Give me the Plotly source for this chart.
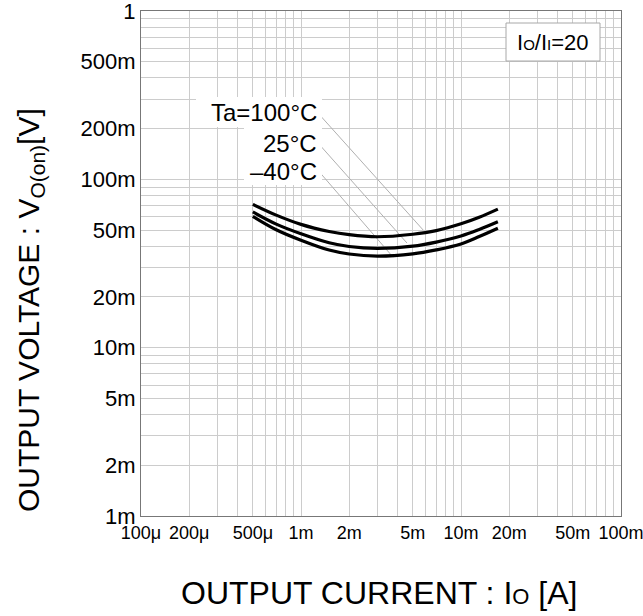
import plotly.graph_objects as go
import numpy as np

# Data
current_A = [0.5e-3, 0.7e-3, 1e-3, 1.5e-3, 2e-3, 3e-3, 5e-3, 7e-3, 10e-3, 13e-3, 17e-3]
v_100C = [71e-3, 61.3e-3, 54e-3, 49e-3, 46.9e-3, 45.6e-3, 47.2e-3, 49.6e-3, 54.4e-3, 59.5e-3, 66.5e-3]
v_25C = [64e-3, 54.2e-3, 47.5e-3, 42e-3, 39.9e-3, 38.9e-3, 40.1e-3, 42.4e-3, 46.1e-3, 50.4e-3, 56e-3]
v_m40C = [60.3e-3, 50.2e-3, 43.5e-3, 38e-3, 36e-3, 35e-3, 36.1e-3, 38.1e-3, 41.3e-3, 45.7e-3, 51.2e-3]

series_names = ["Ta=100°C", "25°C", "–40°C"]
series_values = [v_100C, v_25C, v_m40C]

x_tick_vals = [1e-4, 2e-4, 5e-4, 1e-3, 2e-3, 5e-3, 1e-2, 2e-2, 5e-2, 1e-1]
x_tick_text = ["100μ", "200μ", "500μ", "1m", "2m", "5m", "10m", "20m", "50m", "100m"]
y_tick_vals = [1e-3, 2e-3, 5e-3, 1e-2, 2e-2, 5e-2, 1e-1, 2e-1, 5e-1, 1]
y_tick_text = ["1m", "2m", "5m", "10m", "20m", "50m", "100m", "200m", "500m", "1"]

# Leader line endpoints (label anchor -> curve)
leader_start_x = [1.31e-3, 1.31e-3, 1.31e-3]
leader_start_y = [0.241, 0.160, 0.110]
leader_end_x = [5.8e-3, 4.6e-3, 3.76e-3]
leader_end_y = [50e-3, 41.8e-3, 34.5e-3]

font = "Liberation Sans, Arial, sans-serif"

def all_grid(lo_exp, hi_exp):
    vals = []
    for e in range(lo_exp, hi_exp):
        for m in range(1, 10):
            vals.append(m * 10.0 ** e)
    vals.append(10.0 ** hi_exp)
    return vals

def labels_for(vals, tv, tt):
    out = []
    for v in vals:
        lab = ""
        for a, b in zip(tv, tt):
            if abs(np.log10(v) - np.log10(a)) < 1e-6:
                lab = b
        out.append(lab)
    return out

xg = all_grid(-4, -1)
yg = all_grid(-3, 0)

fig = go.Figure()

for sx, sy, ex, ey in zip(leader_start_x, leader_start_y, leader_end_x, leader_end_y):
    fig.add_trace(go.Scatter(x=[sx, ex], y=[sy, ey], mode="lines",
                             line=dict(color="#b0b0b0", width=1), showlegend=False,
                             hoverinfo="skip"))

for name, vals in zip(series_names, series_values):
    fig.add_trace(go.Scatter(x=current_A, y=vals, mode="lines", name=name,
                             line=dict(color="black", width=3.2, shape="spline", smoothing=1.0),
                             showlegend=False))

# plot area in screen pixels (reference)
PL, PR, PT, PB = 141, 621, 11, 516
W, H = PR - PL, PB - PT

def px(xp):
    return (xp - PL) / W

def py(yp):
    return (PB - yp) / H

# Label block (white background)
fig.add_shape(type="rect", xref="paper", yref="paper",
              x0=px(196), x1=px(322), y0=py(127), y1=py(97),
              fillcolor="white", line=dict(width=0), layer="above")
fig.add_shape(type="rect", xref="paper", yref="paper",
              x0=px(244), x1=px(322), y0=py(185), y1=py(127),
              fillcolor="white", line=dict(width=0), layer="above")
label_y_px = [113, 143, 172]
for name, ypx in zip(series_names, label_y_px):
    fig.add_annotation(xref="paper", yref="paper", x=px(319),
                       y=py(ypx), text=name, showarrow=False,
                       xanchor="right", yanchor="middle",
                       font=dict(family=font, size=24, color="black"))

# Io/Ii box
fig.add_shape(type="rect", xref="paper", yref="paper",
              x0=px(506), x1=px(600), y0=py(61), y1=py(23),
              fillcolor="white", line=dict(color="#a8a8a8", width=1), layer="above")
fig.add_annotation(xref="paper", yref="paper", x=px(553), y=py(42),
                   xanchor="center", yanchor="middle",
                   text="I<span style='font-size:15px'>O</span>/I<span style='font-size:15px'>I</span>=20",
                   showarrow=False, font=dict(family=font, size=22, color="black"))

fig.update_xaxes(type="log", range=[-4, -1], tickvals=xg,
                 ticktext=labels_for(xg, x_tick_vals, x_tick_text),
                 showgrid=True, gridcolor="#cccccc", gridwidth=1,
                 showline=True, linecolor="#777777", linewidth=1, mirror=True,
                 ticks="", zeroline=False, ticklabeloverflow="allow", automargin=False,
                 tickfont=dict(family=font, size=18, color="black"))
fig.update_yaxes(type="log", range=[-3, 0], tickvals=yg,
                 ticktext=labels_for(yg, y_tick_vals, y_tick_text),
                 showgrid=True, gridcolor="#cccccc", gridwidth=1,
                 showline=True, linecolor="#777777", linewidth=1, mirror=True,
                 ticks="", zeroline=False, ticklabeloverflow="allow", automargin=False,
                 tickfont=dict(family=font, size=22, color="black"))

# Axis titles as annotations for precise placement
fig.add_annotation(xref="paper", yref="paper", x=px(379), y=py(593),
                   text="OUTPUT CURRENT : I<span style='font-size:22px'>O</span> [A]",
                   showarrow=False, xanchor="center", yanchor="middle",
                   font=dict(family=font, size=32, color="black"))
fig.add_annotation(xref="paper", yref="paper", x=px(30), y=py(310),
                   text="OUTPUT VOLTAGE : V<sub>O(on)</sub>[V]", showarrow=False,
                   textangle=-90, xanchor="center", yanchor="middle",
                   font=dict(family=font, size=30, color="black"))

fig.update_layout(width=643, height=616, autosize=False,
                  margin=dict(l=PL, r=643 - PR, t=PT, b=616 - PB, autoexpand=False),
                  paper_bgcolor="white", plot_bgcolor="white",
                  font=dict(family=font))

post = ("document.documentElement.style.margin='0';"
        "document.documentElement.style.overflow='hidden';"
        "document.body.style.margin='0';document.body.style.padding='0';"
        "document.body.style.overflow='hidden';"
        "var g=document.querySelector('.plotly-graph-div');"
        "g.style.position='fixed';g.style.left='0px';g.style.top='0px';")

fig.write_html("out.html", config={"displayModeBar": False}, post_script=post)
